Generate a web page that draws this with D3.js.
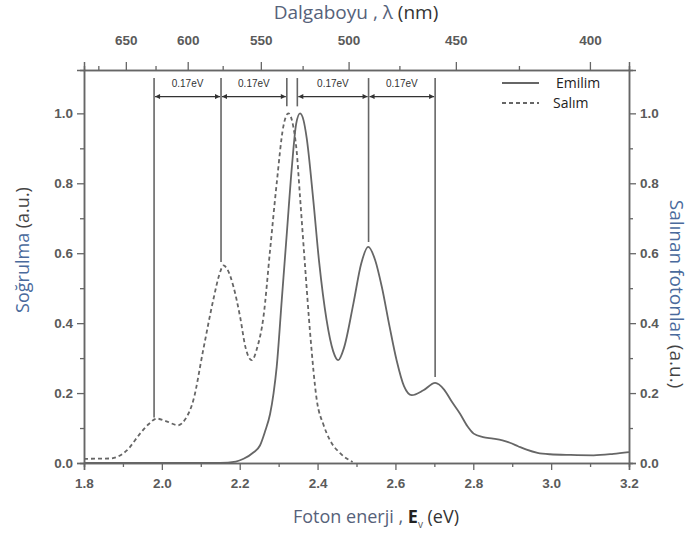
<!DOCTYPE html>
<html>
<head>
<meta charset="utf-8">
<script src="https://cdn.jsdelivr.net/npm/d3@7"></script>
<style>
  body { margin: 0; background: #fff; }
  svg { display: block; }
</style>
</head>
<body>
<div id="chart"></div>
<script>
// Emilim (solid) : [energy eV, value]
const emilim = [
  [1.80, 0.0], [2.15, 0.0], [2.19, 0.004], [2.21, 0.012], [2.235, 0.03], [2.252, 0.05],
  [2.265, 0.09], [2.278, 0.14], [2.287, 0.2], [2.295, 0.275], [2.308, 0.466], [2.321, 0.657],
  [2.334, 0.847], [2.345, 0.97], [2.355, 1.0], [2.364, 0.98], [2.372, 0.93], [2.389, 0.752],
  [2.404, 0.575], [2.423, 0.41], [2.44, 0.32], [2.453, 0.294], [2.468, 0.33], [2.492, 0.456],
  [2.512, 0.57], [2.530, 0.618], [2.548, 0.58], [2.565, 0.504], [2.585, 0.39], [2.603, 0.294],
  [2.622, 0.22], [2.642, 0.194], [2.672, 0.208], [2.702, 0.229], [2.725, 0.21], [2.745, 0.175],
  [2.766, 0.141], [2.785, 0.105], [2.801, 0.084], [2.825, 0.074], [2.851, 0.07], [2.875, 0.065],
  [2.894, 0.058], [2.915, 0.048], [2.937, 0.038], [2.965, 0.029], [2.997, 0.025], [3.05, 0.023],
  [3.109, 0.022], [3.16, 0.026], [3.2, 0.031]
];

// Salım (dashed)
const salim = [
  [1.80, 0.012], [1.867, 0.013], [1.89, 0.02], [1.91, 0.036], [1.944, 0.084], [1.965, 0.11],
  [1.987, 0.127], [2.01, 0.12], [2.042, 0.108], [2.06, 0.125], [2.081, 0.18], [2.106, 0.322],
  [2.132, 0.466], [2.148, 0.54], [2.158, 0.565], [2.17, 0.55], [2.184, 0.504], [2.201, 0.418],
  [2.215, 0.33], [2.231, 0.294], [2.245, 0.33], [2.261, 0.418], [2.278, 0.609], [2.295, 0.8],
  [2.312, 0.962], [2.325, 1.0], [2.338, 0.96], [2.346, 0.895], [2.355, 0.76], [2.368, 0.561],
  [2.381, 0.37], [2.398, 0.18], [2.415, 0.11], [2.432, 0.065], [2.458, 0.028], [2.49, 0.003]
];

// vertical marker lines (energy, lower end value)
const markerE = [1.98, 2.152, 2.321, 2.348, 2.531, 2.702];
const markerBottom = [0.13, 0.575, 1.02, 1.02, 0.632, 0.246];
const markerTop = 1.101;
const arrowPairs = [[0, 1], [1, 2], [3, 4], [4, 5]];
const arrowLabel = "0.17eV";

const energyTicks = [1.8, 2.0, 2.2, 2.4, 2.6, 2.8, 3.0, 3.2];
const energyMinor = [1.9, 2.1, 2.3, 2.5, 2.7, 2.9, 3.1];
const yTicks = [0, 0.2, 0.4, 0.6, 0.8, 1.0];
const yMinor = [0.1, 0.3, 0.5, 0.7, 0.9];
const nmTicks = [650, 600, 550, 500, 450, 400];
const nmMinor = [675, 625, 575, 525, 475, 425];

const width = 693, height = 533;
const margin = { top: 70, right: 64, bottom: 70, left: 84 };
const axisColor = "#666";
const titleColor = "#56627a";

const svg = d3.select("#chart").append("svg")
  .attr("width", width)
  .attr("height", height);

const x = d3.scaleLinear().domain([1.8, 3.2]).range([margin.left, width - margin.right]);
const y = d3.scaleLinear().domain([0, 1.124]).range([height - margin.bottom, margin.top]);
const toE = nm => 1239.84 / nm;

function styleAxis(g) {
  g.select(".domain").attr("stroke", axisColor).attr("stroke-width", 1.5);
  g.selectAll(".tick line").attr("stroke", axisColor).attr("stroke-width", 1.3);
  g.selectAll(".tick text")
    .attr("fill", "#5a5a5a")
    .style("font-family", "'Liberation Sans', Arial, sans-serif")
    .style("font-weight", "bold")
    .style("font-size", "13.5px");
}

// bottom
svg.append("g")
  .attr("transform", `translate(0,${y(0)})`)
  .call(d3.axisBottom(x).tickValues(energyTicks).tickFormat(d3.format(".1f")).tickSize(7).tickPadding(8))
  .call(styleAxis);
svg.append("g")
  .attr("transform", `translate(0,${y(0)})`)
  .call(d3.axisBottom(x).tickValues(energyMinor).tickFormat("").tickSize(4))
  .call(styleAxis);

// top (wavelength)
svg.append("g")
  .attr("transform", `translate(0,${margin.top})`)
  .call(d3.axisTop(x).tickValues(nmTicks.map(toE)).tickFormat((d, i) => nmTicks[i]).tickSize(8).tickPadding(17))
  .call(styleAxis);
svg.append("g")
  .attr("transform", `translate(0,${margin.top})`)
  .call(d3.axisTop(x).tickValues(nmMinor.map(toE)).tickFormat("").tickSize(4))
  .call(styleAxis);

// left
svg.append("g")
  .attr("transform", `translate(${margin.left},0)`)
  .call(d3.axisLeft(y).tickValues(yTicks).tickFormat(d3.format(".1f")).tickSize(7).tickPadding(4))
  .call(styleAxis);
svg.append("g")
  .attr("transform", `translate(${margin.left},0)`)
  .call(d3.axisLeft(y).tickValues(yMinor).tickFormat("").tickSize(4))
  .call(styleAxis);

// right
svg.append("g")
  .attr("transform", `translate(${width - margin.right},0)`)
  .call(d3.axisRight(y).tickValues(yTicks).tickFormat(d3.format(".1f")).tickSize(7).tickPadding(4))
  .call(styleAxis);
svg.append("g")
  .attr("transform", `translate(${width - margin.right},0)`)
  .call(d3.axisRight(y).tickValues(yMinor).tickFormat("").tickSize(4))
  .call(styleAxis);

// curves
const line = d3.line()
  .x(d => x(d[0]))
  .y(d => y(d[1]))
  .curve(d3.curveMonotoneX);

svg.append("path")
  .datum(salim)
  .attr("fill", "none")
  .attr("stroke", "#666")
  .attr("stroke-width", 1.8)
  .attr("stroke-dasharray", "4,3")
  .attr("d", line);

svg.append("path")
  .datum(emilim)
  .attr("fill", "none")
  .attr("stroke", "#666")
  .attr("stroke-width", 1.8)
  .attr("d", line);

// marker lines
svg.selectAll(".marker")
  .data(markerE)
  .enter().append("line")
  .attr("class", "marker")
  .attr("x1", d => x(d))
  .attr("x2", d => x(d))
  .attr("y1", y(markerTop))
  .attr("y2", (d, i) => y(markerBottom[i]))
  .attr("stroke", "#666")
  .attr("stroke-width", 1.6);

// arrowheads
const defs = svg.append("defs");
defs.append("marker")
  .attr("id", "head")
  .attr("viewBox", "0 0 10 10")
  .attr("refX", 10)
  .attr("refY", 5)
  .attr("markerWidth", 7)
  .attr("markerHeight", 5)
  .attr("markerUnits", "userSpaceOnUse")
  .attr("orient", "auto-start-reverse")
  .append("path")
  .attr("d", "M0,0 L10,5 L0,10 z")
  .attr("fill", "#333");

const arrowY = 1.048;
svg.selectAll(".arrow")
  .data(arrowPairs)
  .enter().append("line")
  .attr("class", "arrow")
  .attr("x1", d => x(markerE[d[0]]) + 1)
  .attr("x2", d => x(markerE[d[1]]) - 1)
  .attr("y1", y(arrowY))
  .attr("y2", y(arrowY))
  .attr("stroke", "#333")
  .attr("stroke-width", 1.2)
  .attr("marker-start", "url(#head)")
  .attr("marker-end", "url(#head)");

svg.selectAll(".arrow-label")
  .data(arrowPairs)
  .enter().append("text")
  .attr("class", "arrow-label")
  .attr("x", d => (x(markerE[d[0]]) + x(markerE[d[1]])) / 2)
  .attr("y", y(1.084))
  .attr("dy", "0.35em")
  .attr("text-anchor", "middle")
  .style("font-family", "'Liberation Sans', Arial, sans-serif")
  .style("font-size", "10px")
  .attr("fill", "#333")
  .text(arrowLabel);

// legend
const legend = svg.append("g").attr("transform", "translate(502,83)");
legend.append("line").attr("x1", 0).attr("x2", 37).attr("y1", 0).attr("y2", 0)
  .attr("stroke", "#666").attr("stroke-width", 1.8);
legend.append("line").attr("x1", 0).attr("x2", 37).attr("y1", 20).attr("y2", 20)
  .attr("stroke", "#666").attr("stroke-width", 1.8).attr("stroke-dasharray", "4,3");
legend.append("text").attr("x", 54).attr("y", 0).attr("dy", "0.35em")
  .style("font-family", "'Open Sans', sans-serif").style("font-size", "14px")
  .attr("fill", "#222").text("Emilim");
legend.append("text").attr("x", 51).attr("y", 20).attr("dy", "0.35em")
  .style("font-family", "'Open Sans', sans-serif").style("font-size", "14px")
  .attr("fill", "#222").text("Salım");

// axis titles
const titleFont = "'Open Sans', 'Noto Sans', sans-serif";

const topTitle = svg.append("text")
  .attr("x", 356).attr("y", 19)
  .attr("text-anchor", "middle")
  .style("font-family", titleFont).style("font-size", "19px");
topTitle.append("tspan").attr("fill", titleColor).text("Dalgaboyu , λ ");
topTitle.append("tspan").attr("fill", "#333").text("(nm)");

const bottomTitle = svg.append("text")
  .attr("x", 376).attr("y", 523)
  .attr("text-anchor", "middle")
  .style("font-family", titleFont).style("font-size", "18px");
bottomTitle.append("tspan").attr("fill", titleColor).text("Foton enerji , ");
bottomTitle.append("tspan").attr("fill", "#222").attr("font-weight", "bold").text("E");
bottomTitle.append("tspan").attr("fill", "#555").attr("font-size", "10px").attr("dy", 5).text("v");
bottomTitle.append("tspan").attr("fill", "#333").attr("dy", -5).text(" (eV)");

const leftTitle = svg.append("text")
  .attr("transform", "translate(29,250) rotate(-90)")
  .attr("text-anchor", "middle")
  .style("font-family", titleFont).style("font-size", "18px");
leftTitle.append("tspan").attr("fill", "#4a6a9c").text("Soğrulma ");
leftTitle.append("tspan").attr("fill", "#444").text("(a.u.)");

const rightTitle = svg.append("text")
  .attr("transform", "translate(670,294) rotate(90)")
  .attr("text-anchor", "middle")
  .style("font-family", titleFont).style("font-size", "19px");
rightTitle.append("tspan").attr("fill", "#4a6a9c").text("Salınan fotonlar ");
rightTitle.append("tspan").attr("fill", "#444").text("(a.u.)");
</script>
</body>
</html>
